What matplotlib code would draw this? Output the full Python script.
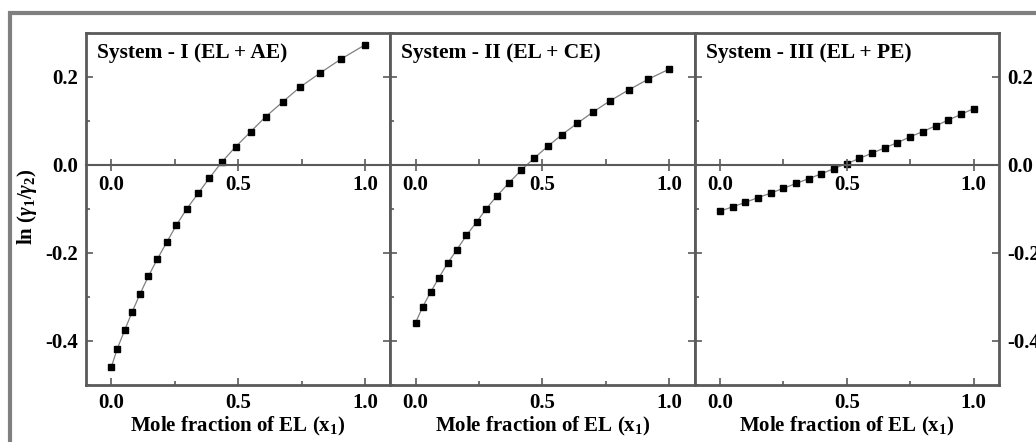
import matplotlib
matplotlib.use("Agg")
import matplotlib.pyplot as plt
from matplotlib.patches import Rectangle
from matplotlib.ticker import MultipleLocator

# Data
sys1_x = [0.0, 0.023, 0.052, 0.082, 0.113, 0.146, 0.181, 0.218, 0.256, 0.298, 0.343,
          0.386, 0.436, 0.491, 0.550, 0.609, 0.675, 0.744, 0.823, 0.906, 1.0]
sys1_y = [-0.459, -0.418, -0.376, -0.334, -0.293, -0.253, -0.214, -0.176, -0.137, -0.099, -0.064,
          -0.030, 0.007, 0.042, 0.076, 0.110, 0.143, 0.177, 0.209, 0.241, 0.273]

sys2_x = [0.0, 0.027, 0.059, 0.092, 0.126, 0.162, 0.200, 0.240, 0.279, 0.321, 0.369,
          0.416, 0.466, 0.522, 0.577, 0.638, 0.701, 0.767, 0.841, 0.917, 1.0]
sys2_y = [-0.358, -0.323, -0.289, -0.256, -0.223, -0.193, -0.160, -0.130, -0.099, -0.070, -0.040,
          -0.012, 0.015, 0.043, 0.069, 0.095, 0.121, 0.146, 0.171, 0.195, 0.218]

sys3_x = [0.0, 0.05, 0.10, 0.15, 0.20, 0.25, 0.30, 0.35, 0.40, 0.45, 0.50,
          0.55, 0.60, 0.65, 0.70, 0.75, 0.80, 0.85, 0.90, 0.95, 1.0]
sys3_y = [-0.105, -0.095, -0.085, -0.074, -0.064, -0.053, -0.042, -0.031, -0.020, -0.008, 0.003,
          0.015, 0.027, 0.039, 0.051, 0.064, 0.076, 0.089, 0.102, 0.115, 0.128]

titles = ["System - I (EL + AE)", "System - II (EL + CE)", "System - III (EL + PE)"]
series = [(sys1_x, sys1_y), (sys2_x, sys2_y), (sys3_x, sys3_y)]

plt.rcParams["font.family"] = ["Liberation Serif", "DejaVu Serif"]
plt.rcParams["font.weight"] = "bold"
plt.rcParams["axes.labelweight"] = "bold"
plt.rcParams["font.size"] = 15
plt.rcParams["axes.unicode_minus"] = False
plt.rcParams["mathtext.fontset"] = "custom"
plt.rcParams["mathtext.rm"] = "Liberation Serif:bold"
plt.rcParams["mathtext.bf"] = "Liberation Serif:bold"
plt.rcParams["mathtext.it"] = "Liberation Serif:italic:bold"

W, H = 1036, 442
fig = plt.figure(figsize=(W / 100, H / 100), dpi=100)
spine_col = "#5a5a5a"

# outer grey frame (runs off right and bottom edges)
fig.patches.append(Rectangle((10 / W, -0.5), 2, 1 - 13 / H + 0.5, transform=fig.transFigure,
                             fill=False, edgecolor="#808080", lw=3, zorder=0))

left0, top, bottom, pw = 86, 33, 385, 304.3
for i, ((xs, ys), title) in enumerate(zip(series, titles)):
    ax = fig.add_axes([(left0 + i * pw) / W, (H - bottom) / H, pw / W, (bottom - top) / H])
    ax.plot(xs, ys, color="#808080", lw=0.9, marker="s", markersize=4.5,
            markerfacecolor="black", markeredgecolor="black", zorder=3)
    ax.set_xlim(-0.1, 1.1)
    ax.set_ylim(-0.5, 0.3)
    ax.xaxis.set_major_locator(MultipleLocator(0.5))
    ax.xaxis.set_minor_locator(MultipleLocator(0.25))
    ax.yaxis.set_major_locator(MultipleLocator(0.2))
    ax.yaxis.set_minor_locator(MultipleLocator(0.1))
    ax.xaxis.set_major_formatter("{x:.1f}")
    ax.yaxis.set_major_formatter("{x:.1f}")
    for s in ax.spines.values():
        s.set_color(spine_col)
        s.set_linewidth(2)
    ax.tick_params(which="both", direction="in", color=spine_col, width=1.2)
    ax.tick_params(which="major", length=5, pad=6)
    ax.tick_params(which="minor", length=3)
    ax.tick_params(axis="y", left=True, right=True, labelleft=(i == 0), labelright=(i == 2))
    ax.set_xlabel("Mole fraction of EL (x$_1$)", labelpad=1)
    ax.text(0.036, 0.943, title, transform=ax.transAxes, va="center", ha="left", fontsize=15.5)

    # second x axis drawn through y = 0
    az = ax.twiny()
    az.set_xlim(ax.get_xlim())
    az.xaxis.set_ticks_position("bottom")
    az.xaxis.set_label_position("bottom")
    az.spines["bottom"].set_position(("data", 0))
    for name in ["top", "left", "right"]:
        az.spines[name].set_visible(False)
    az.spines["bottom"].set_color(spine_col)
    az.spines["bottom"].set_linewidth(1.5)
    az.xaxis.set_major_locator(MultipleLocator(0.5))
    az.xaxis.set_minor_locator(MultipleLocator(0.25))
    az.xaxis.set_major_formatter("{x:.1f}")
    az.tick_params(which="major", direction="inout", length=9, width=1.2, color=spine_col, pad=3)
    az.tick_params(which="minor", direction="in", length=4, width=1.2, color=spine_col)

fig.text(27 / W, 1 - 207 / H, "ln ($\\mathit{\\gamma}_1/\\mathit{\\gamma}_2$)", rotation=90,
         ha="center", va="center")

fig.savefig("out.png", dpi=100)
